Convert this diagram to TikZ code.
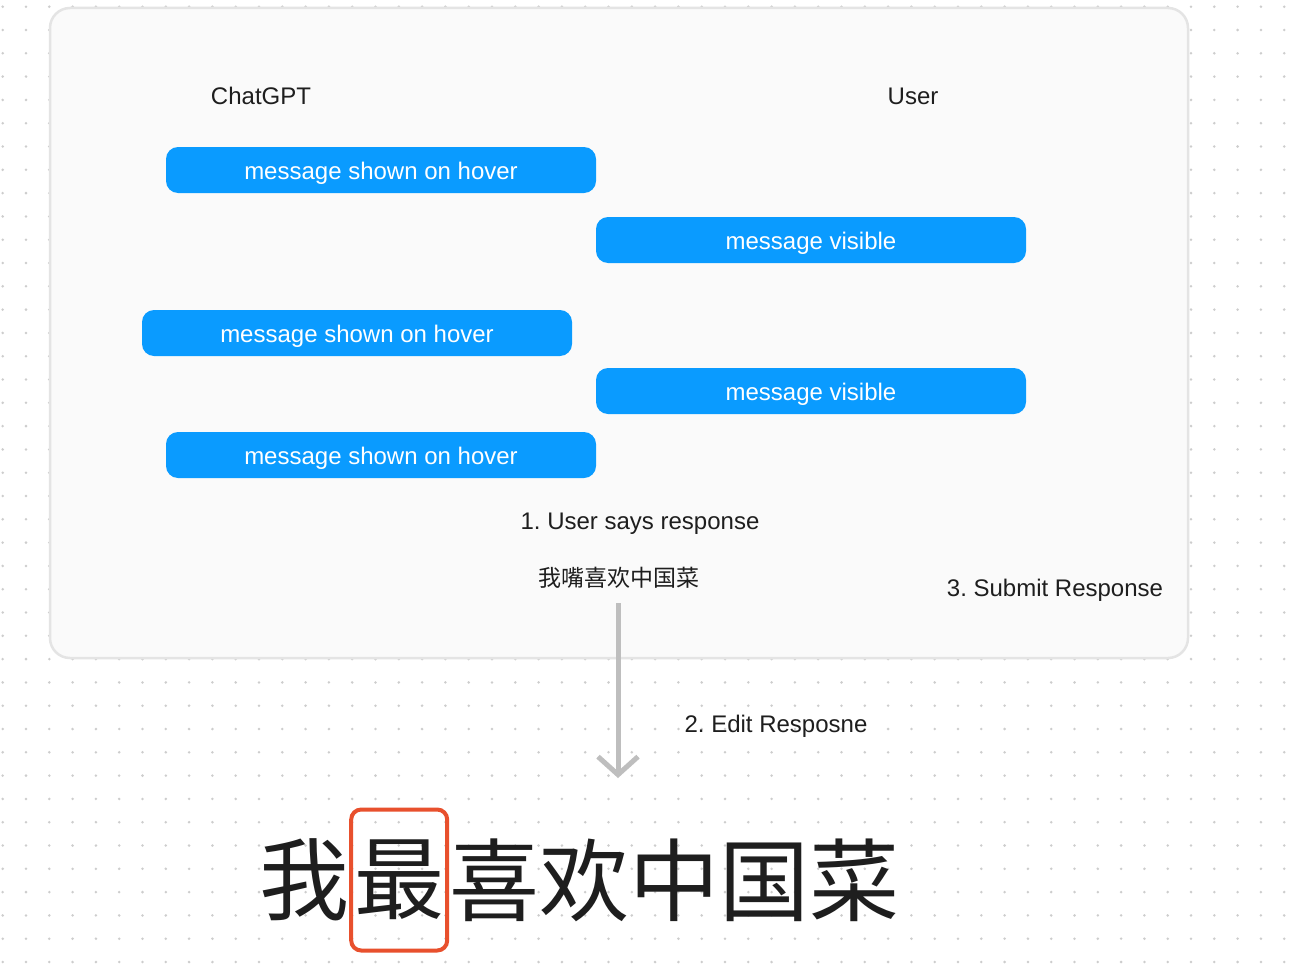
\documentclass[tikz,border=0pt]{standalone}
\usepackage{fontspec}
\setmainfont{Liberation Sans}
\newfontfamily\cjk{Noto Sans CJK SC}
\usetikzlibrary{positioning, shapes, arrows.meta}
\definecolor{msgblue}{RGB}{10,155,255}
\definecolor{dotgrey}{RGB}{205,205,205}
\definecolor{panelfill}{RGB}{250,250,250}
\definecolor{panelline}{RGB}{228,228,228}
\definecolor{ink}{RGB}{30,30,30}
\definecolor{arrowgrey}{RGB}{190,190,190}
\definecolor{markred}{RGB}{232,80,45}
\frenchspacing

\begin{document}
\begin{tikzpicture}[x=1pt,y=-1pt]
\tikzstyle{every node}=[text=ink, font=\fontsize{24}{28}\selectfont, text height=18pt, text depth=0pt];
\tikzstyle{msg}=[fill=msgblue, rounded corners=12pt, minimum width=430pt, minimum height=46pt, text=white, inner sep=0pt];
\tikzstyle{panel}=[draw=panelline, fill=panelfill, line width=2.5pt, rounded corners=20pt, minimum width=1138pt, minimum height=650pt];
\tikzstyle{bigchar}=[font=\cjk\fontsize{90}{100}\selectfont, inner sep=0pt, text height=, text depth=];
\useasboundingbox (0,0) rectangle (1304,974);
\fill[white] (0,0) rectangle (1304,974);
\foreach \i in {0,...,55}
  \foreach \j in {0,...,41}
    \fill[dotgrey] (2.7+23.3*\i, 6.7+23.3*\j) circle (1.4pt);
\path (619,333) node[panel, text height=, text depth=] (board) {};
\path (261,95) node (bot) {ChatGPT};
\path (913,95) node (user) {User};
\path (381,170) node[msg] (m1) {message shown on hover};
\path (811,240) node[msg] (m2) {message visible};
\path (357,333) node[msg] (m3) {message shown on hover};
\path (811,391) node[msg] (m4) {message visible};
\path (381,455) node[msg] (m5) {message shown on hover};
\path (640,520) node (step1) {1. User says response};
\path (619,578) node[font=\cjk\fontsize{23}{26}\selectfont, text height=, text depth=] (said) {我嘴喜欢中国菜};
\path (1055,587) node (step3) {3. Submit Response};
\path (776,723) node (step2) {2. Edit Resposne};
\path (618,603) coordinate (from);
\path (618,778) coordinate (to);
\draw [-{Straight Barb[length=18pt, width=40pt]}, arrowgrey, line width=5pt] (from) -- (to);
\path (304,880) node[bigchar] (wo) {我};
\node[bigchar, right=0pt of wo, draw=markred, line width=4pt, rounded corners=10pt, minimum width=96pt, minimum height=141pt] (zui) {最};
\node[bigchar, right=0pt of zui] (rest) {喜欢中国菜};
\end{tikzpicture}
\end{document}
